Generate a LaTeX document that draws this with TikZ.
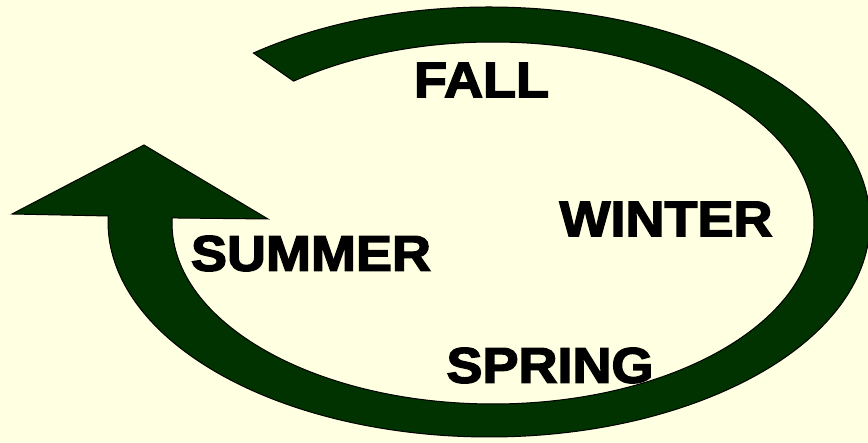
\documentclass[tikz,border=0pt]{standalone}
\usepackage{fontspec}
\newfontfamily\heavy[FakeBold=3, FakeStretch=1.08]{Liberation Sans Bold}
\definecolor{bg}{HTML}{FFFFE1}
\definecolor{ring}{HTML}{003300}
\tikzset{
  season/.style={font=\heavy\fontsize{50}{50}\selectfont, inner sep=0pt, text=black},
  band/.style={fill=ring, draw=black, line width=1pt, line join=miter}
}
\begin{document}
\begin{tikzpicture}[x=1pt,y=1pt]
\fill[bg] (0,0) rectangle (868,443);
\useasboundingbox (0,0) rectangle (868,443);
\coordinate (oc) at (489,221);
\coordinate (ic) at (493,220);
\coordinate (headL) at (12,229);
\coordinate (tip) at (144,298);
\coordinate (headR) at (268,224);
\path[band] ([shift={(oc)}]128.2:381 and 215)
  arc[start angle=128.2, end angle=-181.6, x radius=381, y radius=215]
  -- (headL) -- (tip) -- (headR)
  -- ([shift={(ic)}]-181.6:321 and 181)
  arc[start angle=-181.6, end angle=128.4, x radius=321, y radius=181]
  -- cycle;
\node[season] (fall) at (481.5,363) {FALL};
\node[season] (winter) at (666,224) {WINTER};
\node[season] (summer) at (311,189.5) {SUMMER};
\node[season] (spring) at (550,77.5) {SPRING};
\end{tikzpicture}
\end{document}
